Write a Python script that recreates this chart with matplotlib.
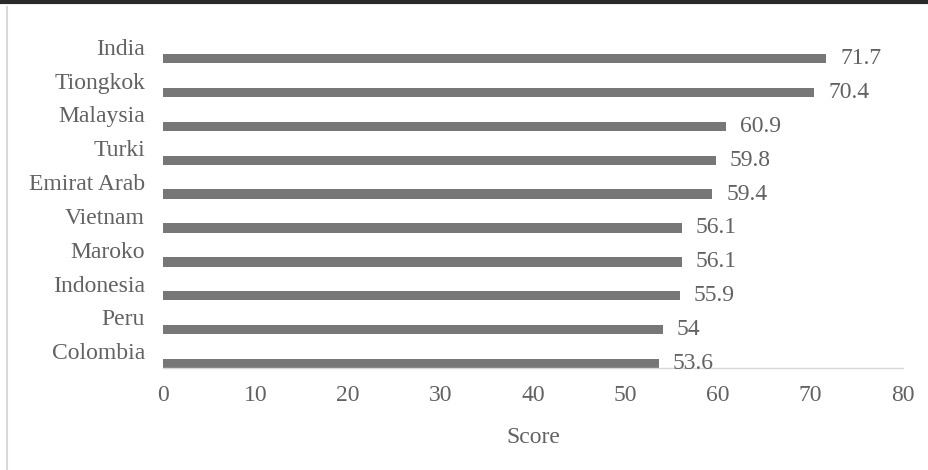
"""
Horizontal bar chart of country scores, recreated with matplotlib.
"""
import matplotlib
matplotlib.use("Agg")
import matplotlib.pyplot as plt
import matplotlib.transforms as mtransforms
from matplotlib.lines import Line2D

countries = ["India", "Tiongkok", "Malaysia", "Turki", "Emirat Arab",
             "Vietnam", "Maroko", "Indonesia", "Peru", "Colombia"]
scores = [71.7, 70.4, 60.9, 59.8, 59.4, 56.1, 56.1, 55.9, 54, 53.6]
value_labels = ["71.7", "70.4", "60.9", "59.8", "59.4",
                "56.1", "56.1", "55.9", "54", "53.6"]
x_ticks = [0, 10, 20, 30, 40, 50, 60, 70, 80]
x_label = "Score"

BAR_COLOR = "#777777"
TEXT_COLOR = "#626262"
FONT = "Liberation Serif"
FS = 17


def main():
    plt.rcParams["font.family"] = FONT
    fig = plt.figure(figsize=(9.29, 4.70), dpi=100)
    ax = fig.add_axes([0.1755, 0.217, 0.7965, 0.694])

    ypos = list(range(len(countries)))[::-1]
    bar_h = 0.28
    ax.barh(ypos, scores, height=bar_h, color=BAR_COLOR)

    for y, v, lab in zip(ypos, scores, value_labels):
        ax.annotate(lab, (v, y), xytext=(10, 0), textcoords="offset points",
                    va="center", ha="left", fontsize=FS, color=TEXT_COLOR)

    ax.set_xlim(0, 80)
    ax.set_ylim(-bar_h / 2, 9.5)
    ax.set_xticks(x_ticks)
    ax.set_xticklabels([str(t) for t in x_ticks])
    ax.set_yticks(ypos)
    ax.set_yticklabels(countries)
    ax.tick_params(axis="both", length=0, labelsize=FS, labelcolor=TEXT_COLOR)
    ax.tick_params(axis="x", pad=12)
    ax.tick_params(axis="y", pad=13)

    # category labels sit a bit above their bars
    offset = mtransforms.ScaledTranslation(0, 0.12, fig.dpi_scale_trans)
    for lbl in ax.get_yticklabels():
        lbl.set_transform(lbl.get_transform() + offset)

    for side in ["top", "right", "left"]:
        ax.spines[side].set_visible(False)
    ax.spines["bottom"].set_color("#d9d9d9")
    ax.spines["bottom"].set_linewidth(1.0)

    ax.set_xlabel(x_label, fontsize=FS, color=TEXT_COLOR, labelpad=15)

    # page border fragments
    fig.add_artist(Line2D([0, 1], [0.996, 0.996], transform=fig.transFigure,
                          color="#2a2a2a", linewidth=3))
    fig.add_artist(Line2D([0.008, 0.008], [0, 0.985], transform=fig.transFigure,
                          color="#d9d9d9", linewidth=1.5))

    fig.savefig("out.png", dpi=100)
    plt.close(fig)


if __name__ == "__main__":
    main()
